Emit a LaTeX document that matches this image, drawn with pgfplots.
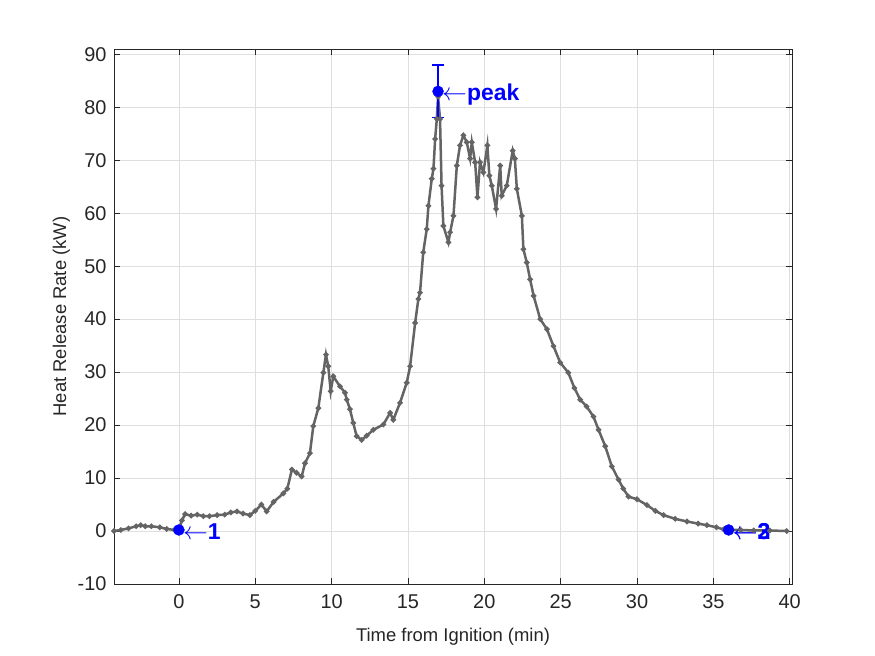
\documentclass[border=0pt]{standalone}
\usepackage{fontspec}
\setmainfont{Liberation Sans}
\usepackage{pgfplots}
\pgfplotsset{compat=1.18}
\definecolor{hrr}{RGB}{100,100,100}
\definecolor{gridc}{RGB}{223,223,223}
\definecolor{axc}{RGB}{38,38,38}
\begin{document}
\begin{tikzpicture}[x=1bp,y=1bp]
\path[use as bounding box] (0,0) rectangle (875,656);
\begin{axis}[at={(114bp,72bp)}, anchor=south west, scale only axis,
  width=678bp, height=535bp,
  xmin=-4.25, xmax=40.15, ymin=-10, ymax=91,
  xtick={0,5,...,40}, ytick={-10,0,...,90},
  grid=major, major grid style={gridc, line width=0.6bp},
  axis line style={axc, line width=0.6bp},
  tick style={axc, line width=0.6bp}, major tick length=6bp,
  tick label style={font=\fontsize{20}{23}\selectfont, text=axc},
  label style={font=\fontsize{18.5}{21}\selectfont, text=axc},
  xticklabel style={yshift=-7bp},
  yticklabel style={xshift=-4bp},
  xlabel style={yshift=-13bp},
  ylabel style={yshift=1bp},
  /pgf/number format/assume math mode=true,
  xlabel={Time from Ignition (min)}, ylabel={Heat Release Rate (kW)},
  clip=false]
\addplot[hrr, line width=2.5bp, mark=*, mark size=1.3bp, mark options={hrr}] table {
x y
-4.25 0.0
-3.8 0.2
-3.3 0.5
-2.8 0.9
-2.5 1.1
-2.2 0.9
-1.8 0.9
-1.25 0.7
-0.8 0.4
-0.3 0.2
0.0 0.3
0.2 2.0
0.4 3.2
0.8 2.9
1.2 3.1
1.6 2.8
2.0 2.8
2.5 3.0
3.0 3.1
3.4 3.5
3.8 3.7
4.2 3.3
4.65 3.0
5.0 3.8
5.4 5.0
5.75 3.7
6.2 5.5
6.84 7.1
7.1 8.0
7.4 11.6
7.7 11.0
8.04 10.3
8.26 12.8
8.58 14.7
8.8 19.8
9.13 23.2
9.46 29.9
9.63 33.3
9.78 31.1
9.94 26.4
10.11 29.2
10.55 27.3
10.88 26.1
10.99 24.8
11.2 23.0
11.42 20.4
11.64 17.9
11.97 17.2
12.3 18.0
12.73 19.1
13.39 20.1
13.83 22.3
14.04 21.0
14.48 24.2
14.92 28.0
15.14 31.1
15.47 39.3
15.68 43.8
15.79 45.0
16.0 52.6
16.23 57.0
16.34 61.4
16.56 66.5
16.67 68.4
16.78 74.0
16.89 77.8
16.97 82.0
17.1 77.8
17.2 65.2
17.32 57.6
17.65 54.5
17.76 56.4
17.98 59.5
18.2 69.0
18.41 72.8
18.63 74.7
18.85 73.4
19.07 70.3
19.18 73.4
19.4 69.6
19.55 63.0
19.72 69.6
19.94 67.7
20.2 72.8
20.33 67.1
20.49 65.2
20.77 60.8
21.04 69.0
21.14 63.3
21.47 65.2
21.86 71.8
22.0 70.3
22.13 64.6
22.46 59.5
22.56 53.2
22.78 50.7
23.0 47.5
23.23 44.4
23.66 40.0
24.1 38.1
24.53 34.9
24.97 31.8
25.5 29.9
25.9 27.0
26.28 24.8
26.7 23.5
27.15 21.6
27.48 19.1
27.92 16.0
28.35 12.2
28.79 9.7
29.1 8.0
29.44 6.5
30.0 6.0
30.65 4.9
31.2 3.8
31.74 3.0
32.5 2.3
33.27 1.8
34.0 1.4
34.58 1.1
35.2 0.7
35.67 0.3
36.0 0.2
36.8 0.2
37.64 0.1
38.7 0.1
39.8 0.0
};
\addplot[blue, only marks, mark=*, mark size=5.5bp,
  error bars/.cd, y dir=both, y explicit, error mark=|,
  error bar style={line width=1.3bp, blue},
  error mark options={mark size=6bp, line width=1.3bp, blue}]
  coordinates {(16.97,83) +- (0,5)};
\addplot[blue, only marks, mark=*, mark size=5.5bp] coordinates {(0,0.2) (36,0.2)};
\node[anchor=west, text=blue, inner sep=0pt, xshift=4bp, yshift=-3bp, font=\fontsize{23}{26}\selectfont] at (axis cs:16.97,83) {$\leftarrow$\textbf{peak}};
\node[anchor=west, text=blue, inner sep=0pt, xshift=4bp, yshift=-2bp, font=\fontsize{23}{26}\selectfont] at (axis cs:0,0.2) {$\leftarrow$\textbf{1}};
\node[anchor=west, text=blue, inner sep=0pt, xshift=4bp, yshift=-2bp, font=\fontsize{23}{26}\selectfont] at (axis cs:36,0.2) {$\leftarrow$\textbf{3}};
\node[anchor=west, text=blue, inner sep=0pt, xshift=4bp, yshift=-2bp, font=\fontsize{23}{26}\selectfont] at (axis cs:36,0.2) {$\leftarrow$\textbf{2}};
\end{axis}
\end{tikzpicture}
\end{document}
